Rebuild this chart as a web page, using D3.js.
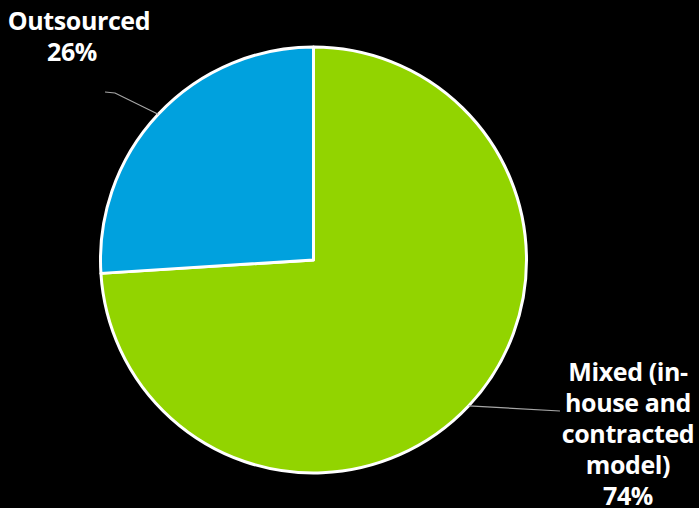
<!DOCTYPE html>
<html>
<head>
<meta charset="utf-8">
<script src="https://cdn.jsdelivr.net/npm/d3@7"></script>
<style>
  html, body { margin: 0; padding: 0; background: #000; }
  svg { display: block; }
</style>
</head>
<body>
<svg id="chart" width="699" height="508"></svg>
<script>
// Sourcing model split
const categories = ["Mixed (in-house and contracted model)", "Outsourced"];
const values = [74, 26];
const colors = ["#92D400", "#00A1DE"];
// Label lines as they wrap beside each slice
const labelLines = [
  ["Mixed (in-", "house and", "contracted", "model)", "74%"],
  ["Outsourced", "26%"]
];

const W = 699, H = 508;
const cx = 313.5, cy = 260, r = 213;

const svg = d3.select("#chart");
svg.append("rect").attr("width", W).attr("height", H).attr("fill", "#000");

const g = svg.append("g").attr("transform", `translate(${cx},${cy})`);

const pie = d3.pie().sort(null).value(d => d.value);
const arcs = pie(categories.map((c, i) => ({ name: c, value: values[i], color: colors[i], lines: labelLines[i] })));

const arc = d3.arc().innerRadius(0).outerRadius(r);

g.selectAll("path.slice")
  .data(arcs)
  .join("path")
  .attr("class", "slice")
  .attr("d", arc)
  .attr("fill", d => d.data.color)
  .attr("stroke", "#fff")
  .attr("stroke-width", 3)
  .attr("stroke-linejoin", "round");

// Leader lines from slice midpoints on the rim out to the labels
const rimPoint = d => {
  const a = (d.startAngle + d.endAngle) / 2;
  return [r * Math.sin(a), -r * Math.cos(a)];
};

const leaders = [
  // Mixed: rim -> left edge of the label block
  d => { const p = rimPoint(d); return [p, [560 - cx, 411 - cy]]; },
  // Outsourced: rim -> short elbow under the label
  d => { const p = rimPoint(d); return [p, [115 - cx, 93 - cy], [105 - cx, 92 - cy]]; }
];

g.selectAll("path.leader")
  .data(arcs)
  .join("path")
  .attr("class", "leader")
  .attr("d", (d, i) => d3.line()(leaders[i](d)))
  .attr("fill", "none")
  .attr("stroke", "#a6a6a6")
  .attr("stroke-width", 1.2);

// Labels
const labelPos = [
  { x: 628, y: 381, lh: 31, offsets: [0, 0, 0, 0, 0] },
  { x: 79, y: 29.5, lh: 31, offsets: [0, -7] }
];

arcs.forEach((d, i) => {
  const pos = labelPos[i];
  const t = svg.append("text")
    .attr("font-family", "'Open Sans', 'DejaVu Sans', sans-serif")
    .attr("font-weight", 700)
    .attr("font-size", 25)
    .attr("letter-spacing", -0.4)
    .attr("fill", "#fff")
    .attr("text-anchor", "middle");
  d.data.lines.forEach((line, k) => {
    t.append("tspan")
      .attr("x", pos.x + pos.offsets[k])
      .attr("y", pos.y + k * pos.lh)
      .text(line);
  });
});
</script>
</body>
</html>
